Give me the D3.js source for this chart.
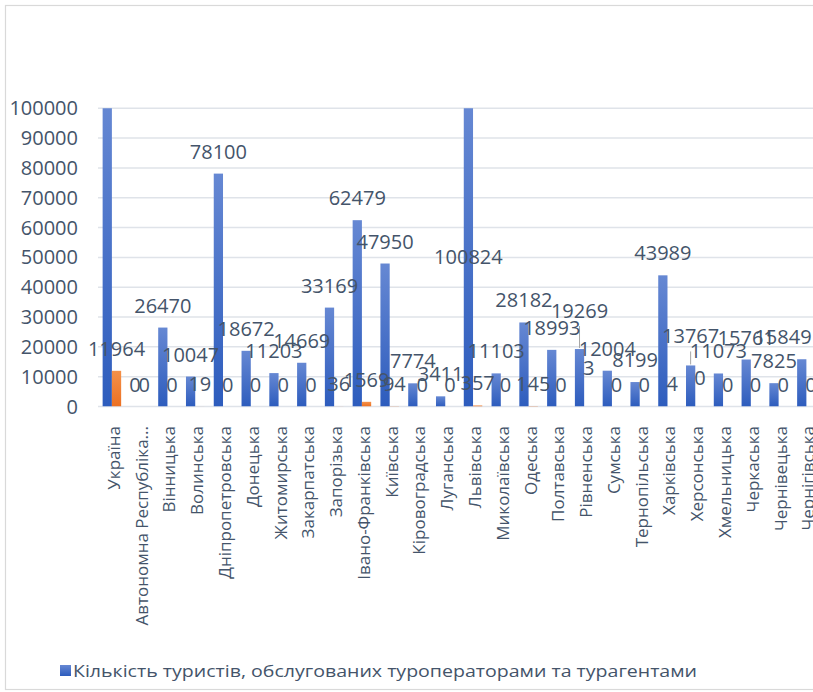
<!DOCTYPE html>
<html lang="uk">
<head>
  <meta charset="UTF-8">
  <title>Кількість туристів за регіонами</title>
  <script src="https://d3js.org/d3.v7.min.js"></script>
  <style>
    body { margin: 0; background: #fff; }
    text { font-family: "Open Sans", sans-serif; fill: #44546a; }
    .grid line { stroke: #dfe3e9; stroke-width: 1.5; }
    .label { font-size: 20px; }
    .tick-y { font-size: 20px; }
    .tick-x { font-size: 17px; }
  </style>
</head>
<body>
<svg width="813" height="692"></svg>
<script>
  // regions (x categories)
  const regions = [
    "Україна", "Автономна Республіка...", "Вінницька", "Волинська",
    "Дніпропетровська", "Донецька", "Житомирська", "Закарпатська",
    "Запорізька", "Івано-Франківська", "Київська", "Кіровоградська",
    "Луганська", "Львівська", "Миколаївська", "Одеська", "Полтавська",
    "Рівненська", "Сумська", "Тернопільська", "Харківська", "Херсонська",
    "Хмельницька", "Черкаська", "Чернівецька", "Чернігівська"
  ];

  // tourists served by tour operators and travel agents
  const tourists = [
    2131455, 0, 26470, 10047, 78100, 18672, 11203, 14669, 33169, 62479,
    47950, 7774, 3411, 100824, 11103, 28182, 18993, 19269, 12004, 8199,
    43989, 13767, 11073, 15761, 7825, 15849
  ];

  // second series (orange)
  const foreign = [
    11964, 0, 0, 19, 0, 0, 0, 0, 36, 1569,
    94, 0, 0, 357, 0, 145, 0, 3, 0, 0,
    4, 0, 0, 0, 0, 0
  ];

  const yTicks = [0, 10000, 20000, 30000, 40000, 50000, 60000, 70000, 80000, 90000, 100000];
  const legendText = "Кількість туристів, обслугованих туроператорами та турагентами";

  const svg = d3.select("svg");
  const margin = { left: 98, top: 108.3, bottom: 406.5 };
  const band = 27.78;
  const yMax = 100000;

  const x = d3.scaleBand()
      .domain(regions)
      .range([margin.left, margin.left + band * regions.length])
      .paddingInner(0).paddingOuter(0);
  const y = d3.scaleLinear().domain([0, yMax]).range([margin.bottom, margin.top]);
  const bw = x.bandwidth() / 3;

  // gradients
  const defs = svg.append("defs");
  const gBlue = defs.append("linearGradient").attr("id", "gBlue")
      .attr("x1", 0).attr("y1", 0).attr("x2", 0).attr("y2", 1);
  gBlue.append("stop").attr("offset", "0%").attr("stop-color", "#6688d3");
  gBlue.append("stop").attr("offset", "100%").attr("stop-color", "#2d5cbd");
  const gOrange = defs.append("linearGradient").attr("id", "gOrange")
      .attr("x1", 0).attr("y1", 0).attr("x2", 0).attr("y2", 1);
  gOrange.append("stop").attr("offset", "0%").attr("stop-color", "#f4914a");
  gOrange.append("stop").attr("offset", "100%").attr("stop-color", "#ec7022");
  defs.append("clipPath").attr("id", "plotClip")
    .append("rect")
      .attr("x", 0).attr("y", margin.top)
      .attr("width", 900).attr("height", margin.bottom - margin.top);

  // chart area border
  svg.append("rect")
      .attr("x", 5.5).attr("y", 5.5)
      .attr("width", 900).attr("height", 684)
      .attr("fill", "none").attr("stroke", "#d9d9d9").attr("stroke-width", 1.2);

  // gridlines
  svg.append("g").attr("class", "grid")
    .selectAll("line")
    .data(yTicks)
    .join("line")
      .attr("x1", margin.left).attr("x2", 813)
      .attr("y1", d => y(d)).attr("y2", d => y(d));

  // y axis labels
  svg.append("g")
    .selectAll("text")
    .data(yTicks)
    .join("text")
      .attr("class", "tick-y")
      .attr("x", 78)
      .attr("y", d => y(d))
      .attr("dy", "0.35em")
      .attr("text-anchor", "end")
      .text(d => d);

  // bars
  const bars = svg.append("g").attr("clip-path", "url(#plotClip)");
  bars.selectAll(".blue")
    .data(tourists)
    .join("rect")
      .attr("class", "blue")
      .attr("x", (d, i) => x(regions[i]) + bw / 2)
      .attr("width", bw)
      .attr("y", d => y(Math.min(d, yMax * 1.02)))
      .attr("height", d => y(0) - y(Math.min(d, yMax * 1.02)))
      .attr("fill", "url(#gBlue)");
  bars.selectAll(".orange")
    .data(foreign)
    .join("rect")
      .attr("class", "orange")
      .attr("x", (d, i) => x(regions[i]) + bw * 1.5)
      .attr("width", bw)
      .attr("y", d => y(d))
      .attr("height", d => y(0) - y(d))
      .attr("fill", "url(#gOrange)");

  // a couple of labels were dragged upward in the original, with leader lines
  const labelLift = { "Рівненська": 16, "Херсонська": 7 };

  function labelY(v, name) {
    if (v > yMax) return (y(yMax) + y(0)) / 2 + 7;   // clipped bar: centred inside
    return y(v) - 15 - (labelLift[name] || 0);
  }

  const blueLabels = tourists.map((v, i) => ({ v, i, cx: x(regions[i]) + bw }))
      .filter(d => d.v <= yMax * 2);
  const orangeLabels = foreign.map((v, i) => ({ v, i, cx: x(regions[i]) + bw * 2 }));

  svg.append("g")
    .selectAll("line")
    .data(blueLabels.filter(d => labelLift[regions[d.i]]))
    .join("line")
      .attr("x1", d => d.cx).attr("x2", d => d.cx)
      .attr("y1", d => labelY(d.v, regions[d.i]) + 8)
      .attr("y2", d => y(d.v) - 1)
      .attr("stroke", "#a6a6a6").attr("stroke-width", 1);

  const labels = svg.append("g");
  labels.selectAll(".lb")
    .data(blueLabels)
    .join("text")
      .attr("class", "label lb")
      .attr("x", d => Math.min(d.cx, 812 - 29))
      .attr("y", d => labelY(d.v, regions[d.i]))
      .attr("text-anchor", "middle")
      .text(d => d.v);
  labels.selectAll(".lo")
    .data(orangeLabels)
    .join("text")
      .attr("class", "label lo")
      .attr("x", d => d.cx)
      .attr("y", d => labelY(d.v, regions[d.i]))
      .attr("text-anchor", "middle")
      .text(d => d.v);

  // x axis labels, rotated
  svg.append("g")
    .selectAll("text")
    .data(regions)
    .join("text")
      .attr("class", "tick-x")
      .attr("transform", d => `translate(${x(d) + x.bandwidth() / 2 + 2},426) rotate(-90)`)
      .attr("dy", "0.35em")
      .attr("text-anchor", "end")
      .text(d => d);

  // legend (only first entry fits)
  svg.append("rect")
      .attr("x", 60).attr("y", 665)
      .attr("width", 11).attr("height", 11)
      .attr("fill", "url(#gBlue)");
  svg.append("text")
      .attr("x", 73).attr("y", 677)
      .attr("font-size", 17)
      .attr("textLength", 624)
      .attr("lengthAdjust", "spacingAndGlyphs")
      .text(legendText);
</script>
</body>
</html>
